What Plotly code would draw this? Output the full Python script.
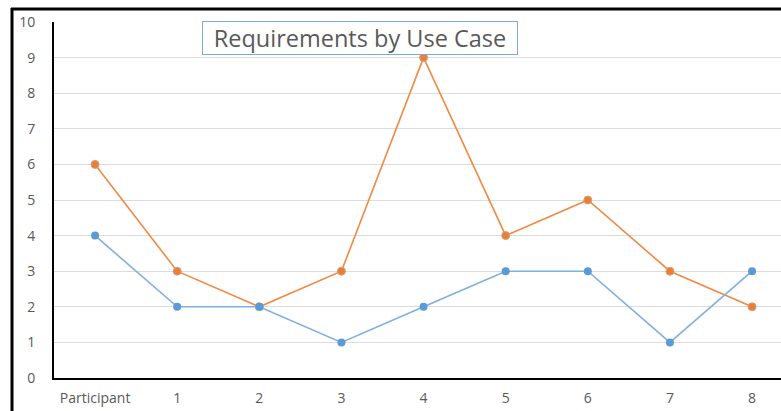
import plotly.graph_objects as go

categories = ["Participant", "1", "2", "3", "4", "5", "6", "7", "8"]
series_blue = [4, 2, 2, 1, 2, 3, 3, 1, 3]
series_orange = [6, 3, 2, 3, 9, 4, 5, 3, 2]
y_ticks = list(range(0, 11))

W, H = 781, 411
L, R, T, B = 54, 0, 22, 33
plot_w = W - L - R
plot_h = H - T - B
band = 82.125


def px_x(px):
    return (px - L) / plot_w


def px_y(py):
    return (H - B - py) / plot_h


fig = go.Figure()
fig.add_trace(go.Scatter(
    x=list(range(len(categories))), y=series_orange, mode="lines+markers",
    line=dict(color="#F08A45", width=1.6),
    marker=dict(color="#ED7D31", size=8, line=dict(color="#C9A58C", width=1)),
    showlegend=False, hoverinfo="skip",
))
fig.add_trace(go.Scatter(
    x=list(range(len(categories))), y=series_blue, mode="lines+markers",
    line=dict(color="#7FB0DE", width=1.6),
    marker=dict(color="#5B9BD5", size=8),
    showlegend=False, hoverinfo="skip",
))

font = "Open Sans, Liberation Sans, sans-serif"
fig.update_layout(
    width=W, height=H,
    margin=dict(l=L, r=R, t=T, b=B, pad=0),
    paper_bgcolor="white", plot_bgcolor="white",
    font=dict(family=font, size=14, color="#595959"),
    xaxis=dict(
        range=[-0.5, -0.5 + plot_w / band],
        tickmode="array", tickvals=list(range(len(categories))), ticktext=categories,
        showgrid=False, zeroline=False,
        showline=True, linecolor="black", linewidth=2,
        ticks="", ticklabelstandoff=6, fixedrange=True,
    ),
    yaxis=dict(
        range=[0, 10], tickmode="array", tickvals=y_ticks,
        showgrid=True, gridcolor="#DCDCDC", gridwidth=1.3,
        zeroline=False, showline=True, linecolor="black", linewidth=2,
        ticks="", ticklabelstandoff=14, fixedrange=True,
    ),
    annotations=[dict(
        text="Requirements by Use Case", xref="paper", yref="paper",
        x=px_x(360), y=px_y(38), xanchor="center", yanchor="middle",
        showarrow=False, font=dict(family=font, size=23.5, color="#595959"),
        bgcolor="white", bordercolor="#7AAAD8", borderwidth=1,
        width=312, height=30,
    )],
    shapes=[
        dict(type="line", xref="paper", yref="paper",
             x0=px_x(12), x1=px_x(12), y0=px_y(8), y1=px_y(411),
             line=dict(color="black", width=3)),
        dict(type="line", xref="paper", yref="paper",
             x0=px_x(11), x1=px_x(781), y0=px_y(9), y1=px_y(9),
             line=dict(color="black", width=3)),
    ],
)

fig.write_html("out.html")
